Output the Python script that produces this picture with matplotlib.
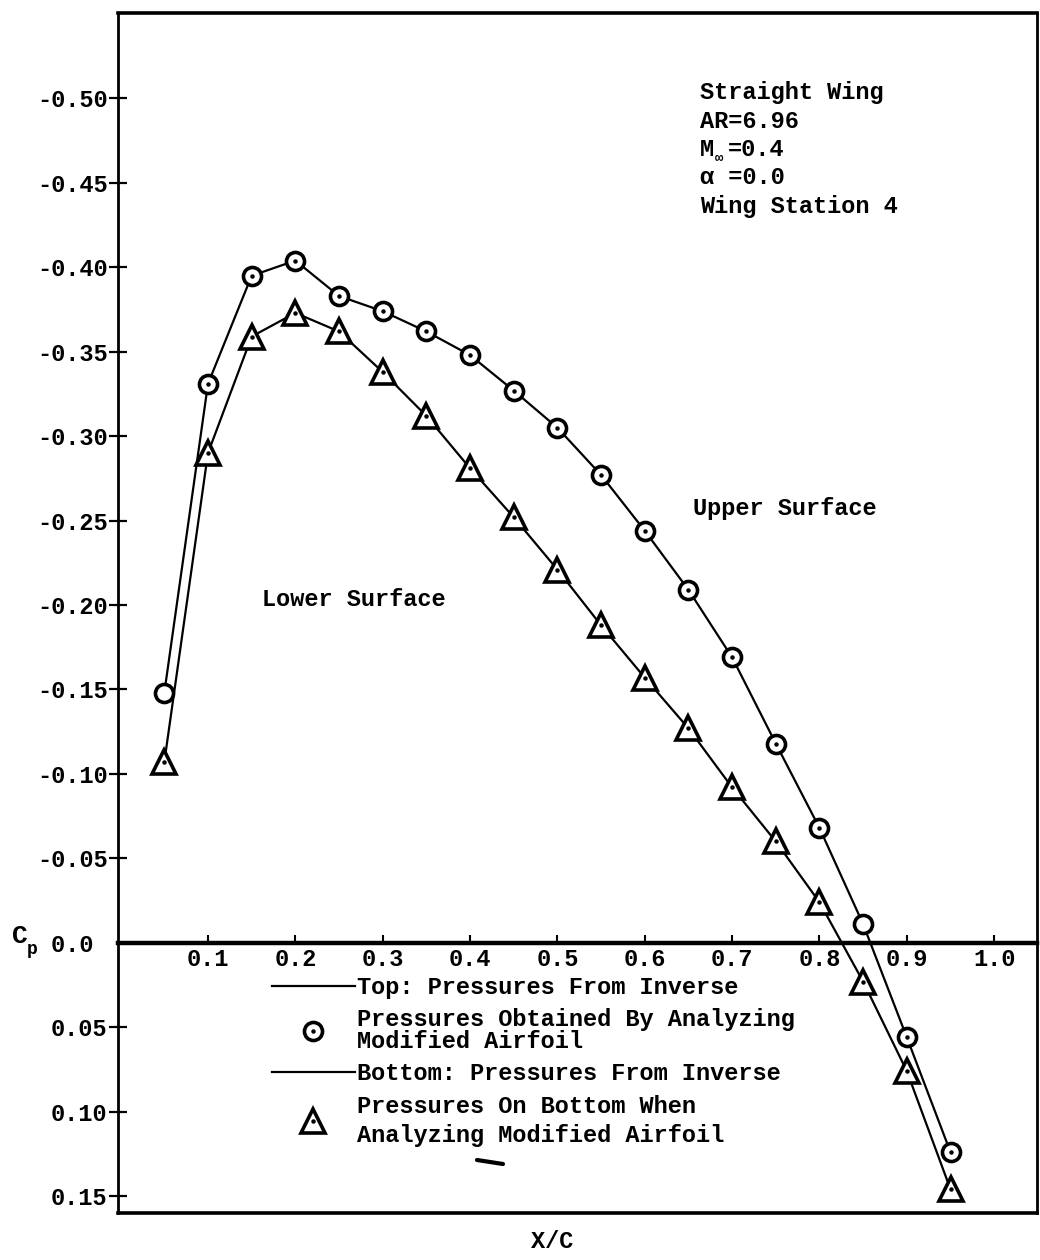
import numpy as np
import matplotlib
matplotlib.use("Agg")
import matplotlib.pyplot as plt
from matplotlib.lines import Line2D
from matplotlib.legend_handler import HandlerTuple

# ---------------- data ----------------
x_over_c = [0.05, 0.10, 0.15, 0.20, 0.25, 0.30, 0.35, 0.40, 0.45, 0.50,
            0.55, 0.60, 0.65, 0.70, 0.75, 0.80, 0.85, 0.90, 0.95]
cp_upper = [-0.148, -0.331, -0.395, -0.404, -0.383, -0.374, -0.362, -0.348,
            -0.327, -0.305, -0.277, -0.244, -0.209, -0.169, -0.118, -0.068,
            -0.011, 0.056, 0.124]
cp_lower = [-0.107, -0.290, -0.359, -0.373, -0.362, -0.338, -0.312, -0.281,
            -0.252, -0.221, -0.188, -0.157, -0.127, -0.092, -0.060, -0.024,
            0.023, 0.076, 0.146]
upper_plain_points = [0.05, 0.85]   # circles drawn without centre dot

xtick_values = [0.1, 0.2, 0.3, 0.4, 0.5, 0.6, 0.7, 0.8, 0.9, 1.0]
xtick_labels = ["0.1", "0.2", "0.3", "0.4", "0.5", "0.6", "0.7", "0.8", "0.9", "1.0"]
ytick_values = [-0.50, -0.45, -0.40, -0.35, -0.30, -0.25, -0.20, -0.15, -0.10,
                -0.05, 0.0, 0.05, 0.10, 0.15]
ytick_labels = ["-0.50", "-0.45", "-0.40", "-0.35", "-0.30", "-0.25", "-0.20",
                "-0.15", "-0.10", "-0.05", "0.0 ", "0.05", "0.10", "0.15"]

legend_labels = ["Top: Pressures From Inverse",
                 "Pressures Obtained By Analyzing\nModified Airfoil",
                 "Bottom: Pressures From Inverse",
                 "Pressures On Bottom When\nAnalyzing Modified Airfoil"]

# ---------------- style ----------------
plt.rcParams["font.family"] = ["Liberation Mono", "DejaVu Sans Mono"]
plt.rcParams["font.weight"] = "bold"
FS = 17

W, H = 1040, 1260
fig = plt.figure(figsize=(W / 100, H / 100), dpi=100)
fig.patch.set_facecolor("white")


def fx(px):
    return px / W


def fy(py):
    return 1 - py / H


ax = fig.add_axes([fx(118), fy(1213), fx(1037) - fx(118), fy(13) - fy(1213)])
xlim = (-0.003, 1.049)
ylim = (0.160, -0.5506)
ax.set_xlim(*xlim)
ax.set_ylim(*ylim)

for side in ["left", "right"]:
    ax.spines[side].set_linewidth(2.0)
for side in ["top", "bottom"]:
    ax.spines[side].set_linewidth(2.6)

ax.set_xticks([])
ax.set_yticks(ytick_values, labels=ytick_labels)
ax.tick_params(axis="y", direction="inout", length=13, width=1.6, pad=1,
               labelsize=FS)
for t, v in zip(ax.yaxis.get_major_ticks(), ytick_values):
    if v == 0.0:
        t.tick1line.set_visible(False)

# zero line as a secondary x axis carrying the x/c ticks
zero_frac = (0 - ylim[0]) / (ylim[1] - ylim[0])
sec = ax.secondary_xaxis(zero_frac)
sec.set_xticks(xtick_values, labels=xtick_labels)
sec.tick_params(direction="in", length=6, width=1.5, pad=4, labelsize=FS)
sec.spines["bottom"].set_linewidth(3.2)

# ---------------- curves and markers ----------------
x = np.array(x_over_c)
cu = np.array(cp_upper)
cl = np.array(cp_lower)

ln_top, = ax.plot(x, cu, "-", color="black", lw=1.6, zorder=2)
ln_bot, = ax.plot(x, cl, "-", color="black", lw=1.6, zorder=2)
mk_c, = ax.plot(x, cu, "o", ms=13, mfc="white", mec="black", mew=2.6,
                ls="none", zorder=3)
mk_t, = ax.plot(x, cl, "^", ms=17, mfc="white", mec="black", mew=2.6,
                ls="none", zorder=3)
dot_mask = ~np.isin(np.round(x, 2), upper_plain_points)
dot_c, = ax.plot(x[dot_mask], cu[dot_mask], "o", ms=2.2, color="black",
                 ls="none", zorder=4)
dot_t, = ax.plot(x, cl, "o", ms=2.2, color="black", ls="none", zorder=4)

# ---------------- legend ----------------
leg = ax.legend([ln_top, (mk_c, dot_c), ln_bot, (mk_t, dot_t)], legend_labels,
                handler_map={tuple: HandlerTuple(ndivide=1, pad=0)},
                loc="upper left", bbox_to_anchor=(fx(272), fy(976)),
                bbox_transform=fig.transFigure, frameon=False,
                borderpad=0, borderaxespad=0, handlelength=3.5,
                handletextpad=0.1, labelspacing=0.4,
                prop={"family": ["Liberation Mono", "DejaVu Sans Mono"],
                      "weight": "bold", "size": FS})
texts = leg.get_texts()
texts[1].set_linespacing(0.9)
texts[3].set_linespacing(1.35)

# ---------------- annotations ----------------
fig.text(fx(700), fy(93), "Straight Wing", fontsize=FS, ha="left", va="center")
fig.text(fx(700), fy(122), "AR=6.96", fontsize=FS, ha="left", va="center")
fig.text(fx(700), fy(149), "M", fontsize=FS, ha="left", va="center")
fig.text(fx(715), fy(158), "\u221e", fontsize=10, ha="left", va="center")
fig.text(fx(728), fy(149), "=0.4", fontsize=FS, ha="left", va="center")
fig.text(fx(700), fy(177), "\u03b1 =0.0", fontsize=FS, ha="left", va="center")
fig.text(fx(700), fy(207), "Wing Station 4", fontsize=FS, ha="left", va="center")

fig.text(fx(693), fy(508), "Upper Surface", fontsize=FS, ha="left", va="center")
fig.text(fx(262), fy(599), "Lower Surface", fontsize=FS, ha="left", va="center")

fig.text(fx(12), fy(936), "C", fontsize=19, ha="left", va="center")
fig.text(fx(27), fy(950), "p", fontsize=13, ha="left", va="center")
fig.text(fx(552), fy(1242), "X/C", fontsize=FS, ha="center", va="center")

fig.add_artist(Line2D([fx(477), fx(503)], [fy(1160), fy(1164)],
                      color="black", lw=3, solid_capstyle="round"))

fig.savefig("out.png", dpi=100, facecolor="white")
